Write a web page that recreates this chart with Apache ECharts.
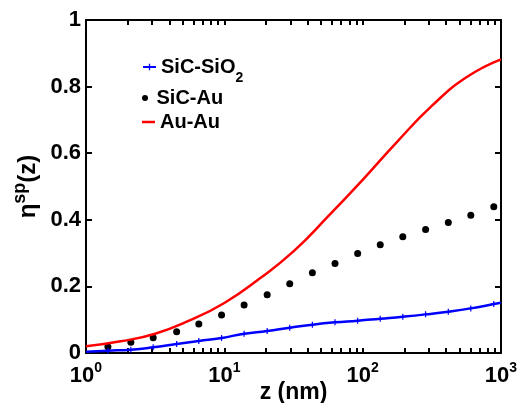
<!DOCTYPE html>
<html><head><meta charset="utf-8">
<script src="https://cdn.jsdelivr.net/npm/echarts@6/dist/echarts.min.js"></script>
<style>html,body{margin:0;padding:0;background:#fff}#c{width:521px;height:403px}</style>
</head><body><div id="c"></div>
<script>
// ---- data ----
const seriesNames = ['SiC-SiO2', 'SiC-Au', 'Au-Au'];
const zPoints = [1.44, 2.11, 3.06, 4.52, 6.54, 9.55, 13.9, 20.4, 29.7, 43.3, 63.1, 92, 134, 195, 285, 416, 605, 887];
const sicSiO2 = [0.007, 0.010, 0.017, 0.027, 0.036, 0.045, 0.058, 0.066, 0.076, 0.085, 0.092, 0.097, 0.103, 0.109, 0.116, 0.124, 0.134, 0.147];
const sicSiO2Ends = [[1, 0.004], [1000, 0.151]];
const sicAu = [0.019, 0.032, 0.046, 0.064, 0.087, 0.114, 0.144, 0.175, 0.208, 0.241, 0.269, 0.299, 0.325, 0.349, 0.371, 0.392, 0.414, 0.439];
const auAuZ = [1, 1.78, 3.16, 5.62, 10, 17.8, 31.6, 56.2, 100, 178, 316, 562, 1000];
const auAu = [0.020, 0.035, 0.058, 0.098, 0.150, 0.222, 0.305, 0.410, 0.520, 0.635, 0.742, 0.828, 0.882];
const xTickLabels = [1, 10, 100, 1000];
const yTickLabels = [0, 0.2, 0.4, 0.6, 0.8, 1];

// minor + major log tick positions
const xTickPositions = [];
for (const d of [1, 10, 100]) for (let k = 1; k <= 9; k++) xTickPositions.push(d * k);
xTickPositions.push(1000);

const FONT = "'Liberation Sans', Arial, Helvetica, sans-serif";
const plusPath = 'path://M4,0H6V4H10V6H6V10H4V6H0V4H4Z';

const blueData = [
  { value: sicSiO2Ends[0], symbol: 'none' },
  ...zPoints.map((z, i) => [z, sicSiO2[i]]),
  { value: sicSiO2Ends[1], symbol: 'none' }
];

const chart = echarts.init(document.getElementById('c'), null, { renderer: 'canvas' });
const axisLine = { show: true, onZero: false, lineStyle: { color: '#000', width: 2 } };
const tickStyle = { color: '#000', width: 2 };
const option = {
  animation: false,
  backgroundColor: '#fff',
  grid: { left: 86, right: 20, top: 20, bottom: 50, outerBoundsMode: 'none', containLabel: false },
  legend: [
    { data: [seriesNames[0]], left: 142, top: 57, padding: 0, itemWidth: 13, itemHeight: 8,
      formatter: () => '{m|SiC-SiO}{s|2}',
      textStyle: { rich: {
        m: { fontFamily: FONT, fontWeight: 'bold', fontSize: 20, lineHeight: 36, color: '#000' },
        s: { fontFamily: FONT, fontWeight: 'bold', fontSize: 14, lineHeight: 20, verticalAlign: 'bottom', color: '#000' } } } },
    { data: [seriesNames[1]], left: 142, top: 88, padding: 0, itemWidth: 13, itemHeight: 6,
      textStyle: { fontFamily: FONT, fontWeight: 'bold', fontSize: 20, lineHeight: 20, color: '#000' } },
    { data: [{ name: seriesNames[2], icon: 'rect' }], left: 142, top: 112, padding: 0, itemWidth: 13, itemHeight: 2.5,
      textStyle: { fontFamily: FONT, fontWeight: 'bold', fontSize: 20, lineHeight: 20, color: '#000' } }
  ],
  xAxis: [
    { type: 'log', logBase: 10, min: 1, max: 1000, position: 'bottom',
      name: 'z (nm)', nameLocation: 'middle', nameGap: 28, nameMoveOverlap: false,
      nameTextStyle: { fontFamily: FONT, fontWeight: 'bold', fontSize: 23, color: '#000', verticalAlign: 'top' },
      axisLine: axisLine,
      axisTick: { show: true, inside: true, length: 5, customValues: xTickPositions, lineStyle: tickStyle },
      axisLabel: { show: true, margin: 8, customValues: xTickLabels,
        formatter: v => '{b|10}{s|' + Math.round(Math.log10(v)) + '}',
        rich: {
          b: { fontFamily: FONT, fontWeight: 'bold', fontSize: 22, lineHeight: 30, color: '#000' },
          s: { fontFamily: FONT, fontWeight: 'bold', fontSize: 14, lineHeight: 10, verticalAlign: 'top', color: '#000' } } },
      splitLine: { show: false }, minorSplitLine: { show: false } },
    { type: 'log', logBase: 10, min: 1, max: 1000, position: 'top',
      axisLine: axisLine,
      axisTick: { show: true, inside: true, length: 5, customValues: xTickPositions, lineStyle: tickStyle },
      axisLabel: { show: false }, splitLine: { show: false } }
  ],
  yAxis: [
    { type: 'value', min: 0, max: 1, interval: 0.2, position: 'left',
      name: '{m|η}{s|sp}{m|(z)}', nameLocation: 'middle', nameGap: 41, nameRotate: 90, nameMoveOverlap: false,
      nameTextStyle: { rich: {
        m: { fontFamily: FONT, fontWeight: 'bold', fontSize: 24, lineHeight: 34, color: '#000' },
        s: { fontFamily: FONT, fontWeight: 'bold', fontSize: 18, lineHeight: 10, verticalAlign: 'top', color: '#000' } } },
      axisLine: axisLine,
      axisTick: { show: true, inside: true, length: 6, lineStyle: tickStyle },
      axisLabel: { margin: 5, fontFamily: FONT, fontWeight: 'bold', fontSize: 22, color: '#000' },
      splitLine: { show: false } },
    { type: 'value', min: 0, max: 1, interval: 0.2, position: 'right',
      axisLine: axisLine,
      axisTick: { show: true, inside: true, length: 6, lineStyle: tickStyle },
      axisLabel: { show: false }, splitLine: { show: false } }
  ],
  series: [
    { name: seriesNames[0], type: 'line', xAxisIndex: 0, yAxisIndex: 0,
      data: blueData, smooth: true, symbol: plusPath, symbolSize: 6, showAllSymbol: true,
      lineStyle: { color: '#0000ff', width: 2.5 }, itemStyle: { color: '#0000ff' } },
    { name: seriesNames[1], type: 'scatter', xAxisIndex: 0, yAxisIndex: 0,
      data: zPoints.map((z, i) => [z, sicAu[i]]), symbol: 'circle', symbolSize: 7,
      itemStyle: { color: '#000', opacity: 1 } },
    { name: seriesNames[2], type: 'line', xAxisIndex: 0, yAxisIndex: 0,
      data: auAuZ.map((z, i) => [z, auAu[i]]), smooth: true, symbol: 'none',
      lineStyle: { color: '#ff0000', width: 2.5 }, itemStyle: { color: '#ff0000' } }
  ]
};
chart.setOption(option);
</script></body></html>
